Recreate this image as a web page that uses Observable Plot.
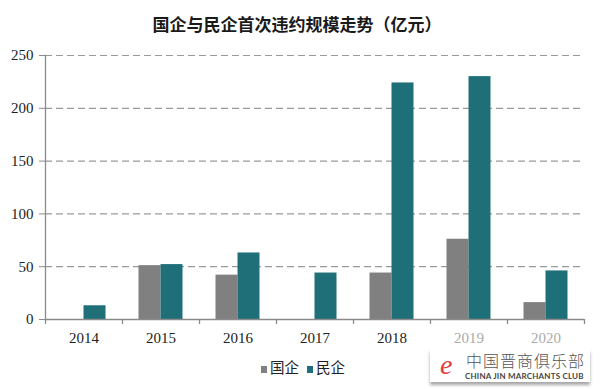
<!DOCTYPE html>
<html>
<head>
<meta charset="utf-8">
<script src="https://cdn.jsdelivr.net/npm/d3@7"></script>
<script src="https://cdn.jsdelivr.net/npm/@observablehq/plot@0.6"></script>
<style>
  html, body { margin: 0; padding: 0; background: #fff; }
  #wrap { position: relative; width: 600px; height: 389px; overflow: hidden; background: #fff; }
  #title { position: absolute; left: 0; top: 12px; width: 594px; height: 24px; line-height: 24px; text-align: center;
           font-family: "Noto Sans CJK SC", sans-serif; font-weight: bold; font-size: 17px; color: #1a1a1a; }
  #chart { position: absolute; left: 0; top: 40px; }
  #legend { position: absolute; left: 0; top: 357px; width: 606px; height: 20px; line-height: 20px; text-align: center;
            font-family: "Noto Sans CJK SC", sans-serif; font-size: 14.5px; color: #222; }
  #legend span.item { display: inline-block; margin: 0 4px; }
  #legend span.sw { display: inline-block; width: 6px; height: 7px; margin-right: 3px; vertical-align: 0px; }
  #wm { position: absolute; left: 430px; top: 349px; width: 160px; height: 33px; background: rgba(255,255,255,0.85);
        box-shadow: 0 3px 3px rgba(0,0,0,0.35); }
  #wm .logo { position: absolute; left: 10px; top: 2px; font-family: "Liberation Serif", serif; font-style: italic;
              font-size: 28px; line-height: 28px; color: #e23b3b; }
  #wm .cn { position: absolute; left: 36px; top: 0px; font-family: "Noto Sans CJK SC", sans-serif; font-weight: 300;
            font-size: 16px; line-height: 22px; color: #555; letter-spacing: 1px; white-space: nowrap; }
  #wm .en { position: absolute; left: 35px; top: 23px; font-family: Lato, sans-serif; font-weight: bold;
            font-size: 8px; line-height: 9px; color: #444; white-space: nowrap; letter-spacing: 0.2px; }
</style>
</head>
<body>
<div id="wrap">
  <div id="title">国企与民企首次违约规模走势（亿元）</div>
  <div id="chart"></div>
  <div id="legend"></div>
  <div id="wm"><span class="logo">e</span><span class="cn">中国晋商俱乐部</span><span class="en">CHINA JIN MARCHANTS CLUB</span></div>
</div>
<script>
const years = ["2014", "2015", "2016", "2017", "2018", "2019", "2020"];
const seriesNames = ["国企", "民企"];
const soeValues = [0, 51, 42, 0, 44, 76, 16];
const privateValues = [13, 52, 63, 44, 224, 230, 46];
const yTicks = [0, 50, 100, 150, 200, 250];
const fadedYears = ["2019", "2020"];
const colors = ["#808080", "#1f6f78"];

const W = 600, H = 310, mL = 45, mR = 16, mT = 15, mB = 31;
const bw = (W - mL - mR) / years.length;
const barW = 22;
const pad = (bw - 2 * barW) / 2;
const axisColor = "#8a8a8a";

const rows = years.flatMap((y, i) => [
  {year: y, series: seriesNames[0], value: soeValues[i]},
  {year: y, series: seriesNames[1], value: privateValues[i]}
]);

const chart = Plot.plot({
  width: W, height: H,
  marginLeft: mL, marginRight: mR, marginTop: mT, marginBottom: mB,
  style: {fontFamily: "'Liberation Serif', 'Times New Roman', serif", fontSize: "15px", background: "transparent", color: "#222"},
  x: {domain: years, padding: 0, label: null},
  y: {domain: [0, 250], label: null},
  color: {domain: seriesNames, range: colors},
  marks: [
    Plot.gridY(yTicks.filter(t => t > 0), {stroke: "#9a9a9a", strokeOpacity: 1, strokeWidth: 1.2, strokeDasharray: "7,4"}),
    Plot.barY(rows.filter(d => d.series === seriesNames[0] && d.value > 0),
      {x: "year", y: "value", fill: "series", insetLeft: pad, insetRight: pad + barW}),
    Plot.barY(rows.filter(d => d.series === seriesNames[1] && d.value > 0),
      {x: "year", y: "value", fill: "series", insetLeft: pad + barW, insetRight: pad}),
    Plot.ruleY([0], {stroke: axisColor, strokeWidth: 1.3}),
    Plot.frame({anchor: "left", stroke: axisColor, strokeWidth: 1.3}),
    Plot.ruleX(years, {x: d => d, y1: 0, y2: 0, dx: -bw / 2, insetBottom: -5, stroke: axisColor, strokeWidth: 1.3}),
    Plot.ruleX(years.slice(-1), {x: d => d, y1: 0, y2: 0, dx: bw / 2, insetBottom: -5, stroke: axisColor, strokeWidth: 1.3}),
    Plot.axisY({ticks: yTicks, tickSize: 6, tickPadding: 6, stroke: axisColor, fill: "#222", label: null}),
    Plot.axisX({tickSize: 0, tickPadding: 13, fill: d => fadedYears.includes(d) ? "#aaa" : "#222", label: null})
  ]
});
document.getElementById("chart").appendChild(chart);

const legend = document.getElementById("legend");
seriesNames.forEach((name, i) => {
  const item = document.createElement("span");
  item.className = "item";
  const sw = document.createElement("span");
  sw.className = "sw";
  sw.style.background = colors[i];
  item.appendChild(sw);
  item.appendChild(document.createTextNode(name));
  legend.appendChild(item);
});
</script>
</body>
</html>
